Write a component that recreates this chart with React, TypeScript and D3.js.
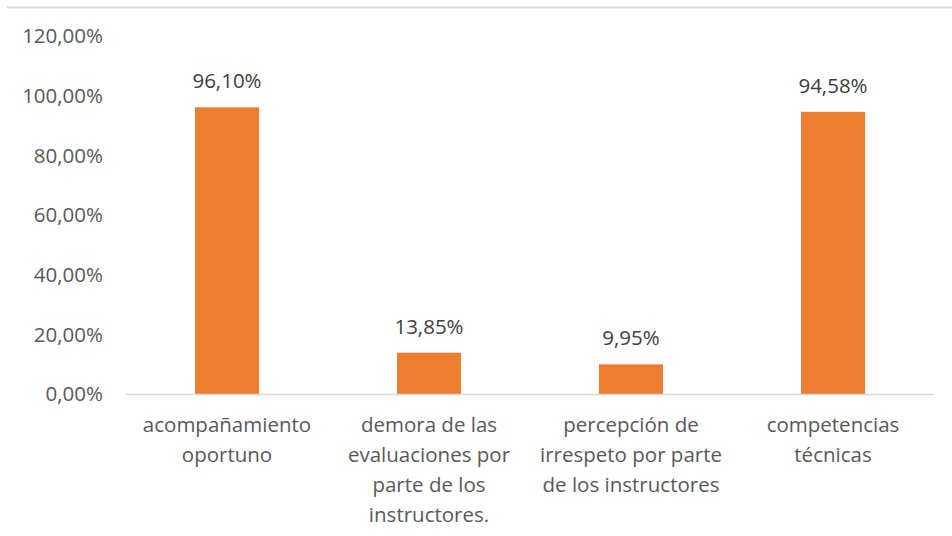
import React from "react";
import * as d3 from "d3";

const categories: string[][] = [
  ["acompañamiento", "oportuno"],
  ["demora de las", "evaluaciones por", "parte de los", "instructores."],
  ["percepción de", "irrespeto por parte", "de los instructores"],
  ["competencias", "técnicas"],
];
const values = [96.1, 13.85, 9.95, 94.58];
const valueLabels = ["96,10%", "13,85%", "9,95%", "94,58%"];
const ticks = [0, 20, 40, 60, 80, 100, 120];

const W = 952;
const H = 536;
const FONT = "'Open Sans', 'Noto Sans', sans-serif";
const FS = 20.5;

export default function App() {
  const x = d3.scaleBand<number>().domain(d3.range(values.length)).range([126, 934]).paddingInner(0).paddingOuter(0);
  const y = d3.scaleLinear().domain([0, 120]).range([394, 36]);
  const barW = 64;
  const fmt = (v: number) => d3.format(".2f")(v).replace(".", ",") + "%";
  return (
    <svg width={W} height={H} style={{ position: "absolute", left: 0, top: 0, background: "#fff" }} fontFamily={FONT}>
      <line x1={7} x2={W} y1={7.5} y2={7.5} stroke="#d9d9d9" strokeWidth={2} />
      {ticks.map((t) => (
        <text key={t} x={103} y={y(t)} dy="0.35em" textAnchor="end" fontSize={FS} fill="#595959">
          {fmt(t)}
        </text>
      ))}
      {values.map((v, i) => {
        const cx = x(i)! + x.bandwidth() / 2;
        return (
          <g key={i}>
            <rect x={cx - barW / 2} y={y(v)} width={barW} height={y(0) - y(v)} fill="#ed7d31" />
            <text x={cx} y={y(v) - 26} dy="0.35em" textAnchor="middle" fontSize={FS} fill="#404040">
              {valueLabels[i]}
            </text>
            {categories[i].map((line, j) => (
              <text key={j} x={cx} y={425 + j * 30} dy="0.35em" textAnchor="middle" fontSize={FS} fill="#595959">
                {line}
              </text>
            ))}
          </g>
        );
      })}
      <line x1={126} x2={934} y1={y(0) + 0.5} y2={y(0) + 0.5} stroke="#d9d9d9" strokeWidth={1.5} />
    </svg>
  );
}
